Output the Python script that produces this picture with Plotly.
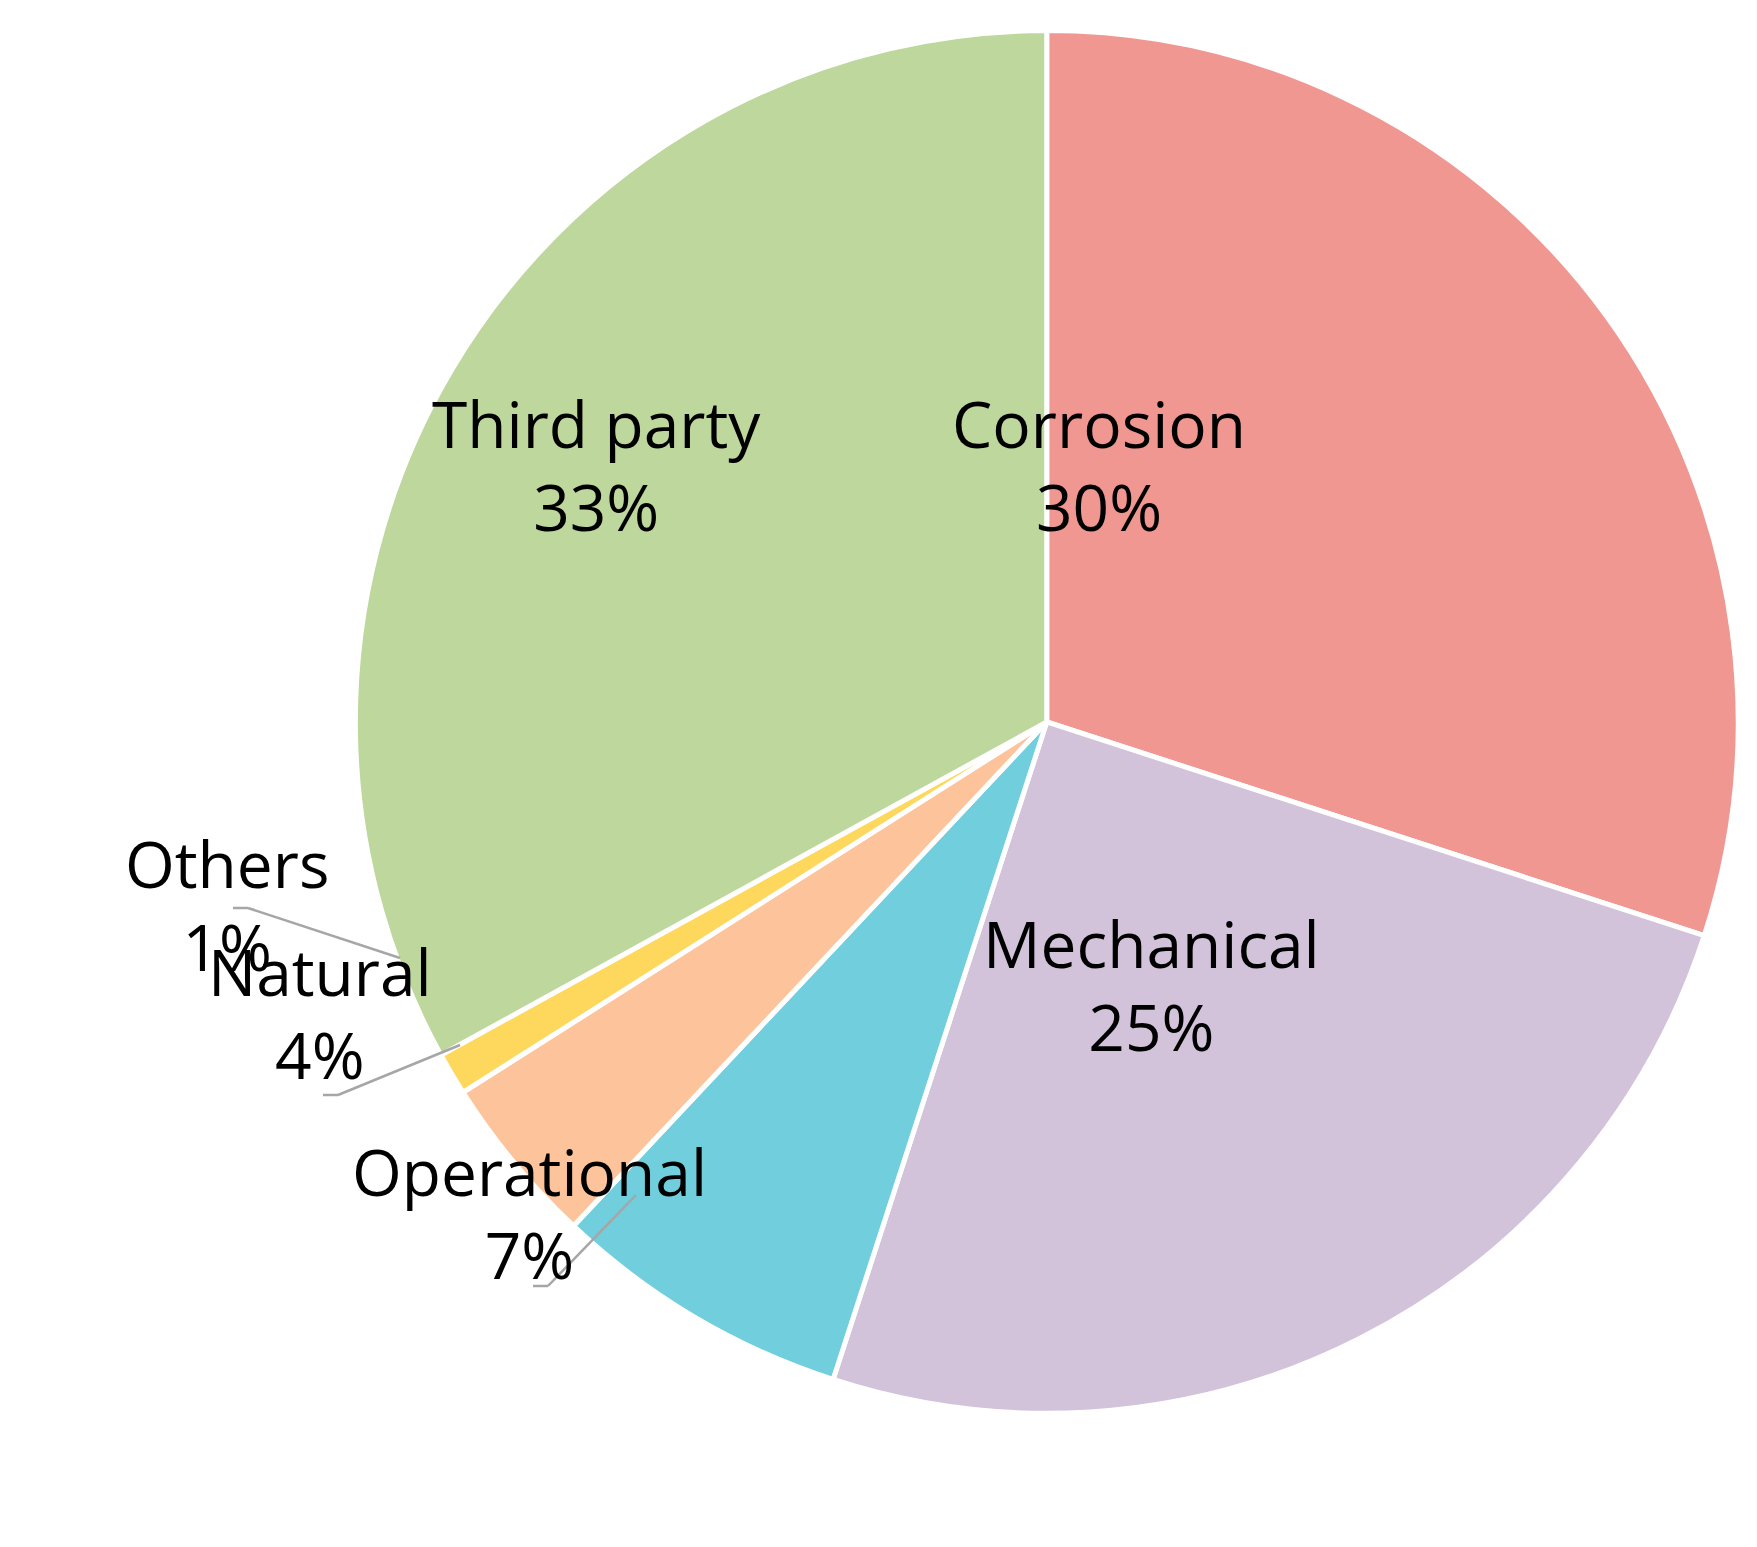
import plotly.graph_objects as go

labels = ["Corrosion", "Mechanical", "Operational", "Natural", "Others", "Third party"]
values = [30, 25, 7, 4, 1, 33]
pct_text = ["30%", "25%", "7%", "4%", "1%", "33%"]
colors = ["#EF9790", "#D2C3DB", "#70CEDD", "#FDC49B", "#FDD85D", "#BDD79D"]

W, H = 1757, 1547
def px(x, y):
    return x / W, 1 - y / H

fig = go.Figure(go.Pie(
    labels=labels, values=values, sort=False, direction="clockwise", rotation=0,
    marker=dict(colors=colors, line=dict(color="white", width=5)),
    textinfo="none", hoverinfo="label+percent", showlegend=False,
    domain=dict(x=[0.1977, 0.9847], y=[0.0915, 0.9855]),
))

font = dict(family="Open Sans, Carlito, sans-serif", size=64, color="black")
label_pos = {
    "Third party": (588, 370), "Corrosion": (1240, 370), "Mechanical": (1143, 977),
    "Others": (115, 897), "Natural": (198, 1092), "Operational": (342, 1292),
}
for lab, t in zip(labels, pct_text):
    x, y = px(*label_pos[lab])
    fig.add_annotation(x=x, y=y, xref="paper", yref="paper", text=f"{lab}<br>{t}",
                       showarrow=False, font=font, align="center")

lines = [
    [(225, 900), (240, 900), (392, 950)],
    [(315, 1087), (330, 1087), (452, 1037)],
    [(525, 1278), (540, 1278), (628, 1187)],
]
for pts in lines:
    for a, b in zip(pts[:-1], pts[1:]):
        x0, y0 = px(*a); x1, y1 = px(*b)
        fig.add_shape(type="line", xref="paper", yref="paper", x0=x0, y0=y0, x1=x1, y1=y1,
                      line=dict(color="#A6A6A6", width=2.5))

fig.update_layout(width=W, height=H, margin=dict(l=0, r=0, t=0, b=0),
                  paper_bgcolor="white", plot_bgcolor="white")
fig.write_html("out.html")
